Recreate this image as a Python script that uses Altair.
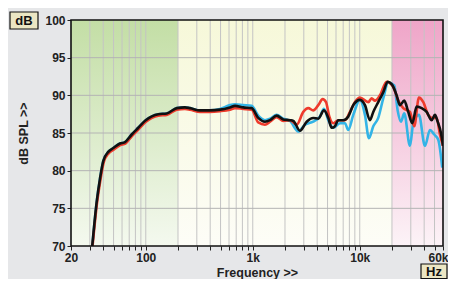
import altair as alt
import pandas as pd

# ---- data ----
black_f = [31.6, 34.8, 37.3, 40.1, 44.6, 49.7, 57.4, 64.0, 73.8, 85.1, 99.8, 131, 157, 195, 232, 259, 321, 398,
           494, 612, 682, 815, 977, 1125, 1301, 1449, 1673, 1929, 2228, 2393, 2761, 3190, 3676, 4094, 4628,
           5082, 5460, 5862, 6296, 7012, 7812, 8698, 10046, 11188, 12454, 13376, 14894, 16586, 18232, 19870,
           22132, 23760, 26060, 28400, 30960, 34040, 37920, 42200, 47000, 50460, 53500, 57420, 60000]
black_db = [70.0, 75.9, 78.9, 81.3, 82.5, 83.0, 83.6, 83.8, 84.8, 85.7, 86.7, 87.5, 87.6, 88.3, 88.4, 88.3, 88.0, 88.0,
            88.1, 88.4, 88.6, 88.4, 88.3, 87.0, 86.5, 86.7, 87.3, 86.8, 86.7, 86.6, 85.3, 86.5, 87.0, 86.9, 88.0,
            87.0, 85.7, 85.9, 86.7, 86.7, 87.2, 88.7, 89.4, 88.7, 86.7, 87.8, 89.1, 90.4, 91.8, 91.5,
            90.0, 88.7, 89.3, 87.8, 86.3, 88.5, 88.3, 87.8, 86.7, 87.4, 86.5, 85.0, 83.3]

red_f = [31.8, 35.0, 37.6, 40.4, 44.9, 50.0, 57.8, 64.5, 74.2, 85.6, 100.3, 131, 157, 195, 232, 259, 321, 398,
         494, 612, 682, 815, 977, 1125, 1301, 1449, 1673, 1929, 2228, 2573, 2966, 3302, 3676, 4094, 4500, 4836,
         5190, 5654, 6296, 7274, 8098, 9020, 10046, 12016, 12914, 13872, 15450, 17834, 20566, 22910, 25500,
         29460, 32300, 35740, 39260, 43680, 47640, 52360, 56200, 60000]
red_db = [70.0, 75.7, 78.7, 81.1, 82.3, 82.8, 83.4, 83.6, 84.6, 85.5, 86.5, 87.3, 87.4, 88.1, 88.2, 88.1, 87.8, 87.8,
          87.9, 88.1, 88.3, 88.2, 88.1, 86.4, 86.1, 86.5, 87.1, 86.6, 86.7, 86.1, 87.8, 88.3, 88.0, 88.7, 89.5, 89.1,
          87.2, 86.3, 86.7, 86.7, 87.8, 89.1, 89.7, 89.1, 89.6, 89.3, 90.0, 91.8, 91.1, 89.3, 88.3,
          87.8, 85.9, 89.7, 89.1, 87.4, 87.0, 87.0, 84.8, 83.3]

blue_f = [31.6, 34.8, 37.3, 40.1, 44.6, 49.7, 57.4, 64.0, 73.8, 85.1, 99.8, 131, 157, 195, 232, 259, 321, 398,
          494, 612, 682, 815, 977, 1125, 1301, 1449, 1673, 1929, 2228, 2662, 3076, 3676, 4248, 4628, 5082, 5654,
          6532, 7274, 7812, 8698, 10046, 11188, 12190, 13376, 14894, 16586, 18472, 21014, 22612, 24260, 26060,
          29460, 31620, 35740, 40680, 45300, 49700, 54200, 59020]
blue_db = [70.0, 75.9, 78.9, 81.3, 82.5, 83.0, 83.6, 83.8, 84.8, 85.7, 86.7, 87.5, 87.6, 88.3, 88.4, 88.3, 88.0, 88.0,
           88.2, 88.7, 88.8, 88.7, 88.6, 87.3, 86.7, 86.9, 87.4, 86.9, 86.6, 85.2, 86.1, 86.5, 87.2, 88.2, 86.7, 85.7,
           86.3, 86.3, 85.4, 87.4, 89.4, 87.4, 84.3, 85.9, 87.0, 89.6, 91.7, 91.3, 88.0, 86.5, 87.6,
           83.3, 86.3, 87.4, 83.3, 85.4, 84.8, 84.1, 80.4]

band_start = [20, 200, 20000]
band_end = [200, 20000, 60000]

x_ticks = [20, 30, 40, 50, 60, 70, 80, 90, 100, 200, 300, 400, 500, 600, 700, 800, 900,
           1000, 2000, 3000, 4000, 5000, 6000, 7000, 8000, 9000, 10000, 20000, 30000, 40000, 50000, 60000]
y_ticks = [70, 75, 80, 85, 90, 95, 100]
x_labels = {20: "20", 100: "100", 1000: "1k", 10000: "10k", 60000: "60k"}

FONT = "Liberation Sans"
W, H = 372, 226

xs = alt.Scale(type="log", domain=[20, 60000], nice=False)
ys = alt.Scale(domain=[70, 100], nice=False, zero=False)

label_expr = " : ".join([f"datum.value == {k} ? '{v}'" for k, v in x_labels.items()]) + " : ''"

x_axis = alt.Axis(values=x_ticks, labelExpr=label_expr, title="Frequency >>", grid=False, domain=False,
                  tickSize=4, tickColor="#222", labelFlush=False, labelOverlap=False, labelPadding=2,
                  labelOffset=alt.ExprRef(expr="datum.value == 60000 ? -5 : 0"),
                  titleY=26.5, titleBaseline="middle")
y_axis = alt.Axis(values=y_ticks, title="dB SPL >>", grid=False, domain=False, tickSize=4,
                  tickColor="#222", labelPadding=2, titleX=-48, titleY=H / 2, titleBaseline="middle")


def X(field):
    return alt.X(field, type="quantitative", scale=xs, axis=x_axis)


def Y(field):
    return alt.Y(field, type="quantitative", scale=ys, axis=y_axis)


def grad(top, bottom):
    return alt.LinearGradient(gradient="linear", x1=0, x2=0, y1=0, y2=1,
                              stops=[alt.GradientStop(color=top, offset=0),
                                     alt.GradientStop(color=bottom, offset=1)])


band_colors = [("#c3dea5", "#f4f9ef"), ("#f6f8d9", "#fdfdf7"), ("#efa5c8", "#fcf3f7")]
bands = []
for i in range(3):
    d = pd.DataFrame({"f0": [band_start[i]], "f1": [band_end[i]], "y0": [70], "y1": [100]})
    bands.append(alt.Chart(d).mark_rect(fill=grad(*band_colors[i]), strokeWidth=0).encode(
        x=X("f0"), x2="f1", y=Y("y0"), y2="y1"))

vgrid = alt.Chart(pd.DataFrame({"f": x_ticks[1:-1]})).mark_rule(color="#c4c4c4", strokeWidth=1).encode(
    x=X("f"))
hgrid = alt.Chart(pd.DataFrame({"d": y_ticks[1:-1]})).mark_rule(color="#b4b4b4", strokeWidth=1).encode(
    y=Y("d"))


def series(fs, ds, color):
    d = pd.DataFrame({"f": fs, "db": ds})
    return alt.Chart(d).mark_line(color=color, strokeWidth=2.6, clip=True, interpolate="monotone").encode(
        x=X("f"), y=Y("db"))


blue = series(blue_f, blue_db, "#33b4e6")
red = series(red_f, red_db, "#ee3b2c")
black = series(black_f, black_db, "#111111")

frame = alt.Chart(pd.DataFrame({"f0": [20], "f1": [60000], "y0": [70], "y1": [100]})).mark_rect(
    fillOpacity=0, stroke="#111", strokeWidth=1.6).encode(x=X("f0"), x2="f1", y=Y("y0"), y2="y1")

one = pd.DataFrame({"a": [0]})
db_box = alt.Chart(one).mark_rect(fill="#ebe6c3", stroke="#111", strokeWidth=1.2).encode(
    x=alt.value(-61), x2=alt.value(-33), y=alt.value(-8), y2=alt.value(9))
db_txt = alt.Chart(one).mark_text(text="dB", font=FONT, fontWeight="bold", fontSize=13, color="#111",
                                  baseline="middle", align="center").encode(x=alt.value(-47), y=alt.value(1))
hz_box = alt.Chart(one).mark_rect(fill="#ebe6c3", stroke="#111", strokeWidth=1.2).encode(
    x=alt.value(350), x2=alt.value(376), y=alt.value(244), y2=alt.value(258.5))
hz_txt = alt.Chart(one).mark_text(text="Hz", font=FONT, fontWeight="bold", fontSize=13, color="#111",
                                  baseline="middle", align="center").encode(x=alt.value(363), y=alt.value(252))

chart = alt.layer(*bands, vgrid, hgrid, blue, red, black, frame, db_box, db_txt, hz_box, hz_txt).properties(
    width=W, height=H,
    autosize=alt.AutoSizeParams(type="none"),
    padding={"left": 63, "top": 12, "right": 5, "bottom": 33},
    background="#e6e7e9",
).configure_view(stroke=None).configure_axis(
    labelFont=FONT, labelFontWeight="bold", labelFontSize=12, labelColor="#222",
    titleFont=FONT, titleFontWeight="bold", titleFontSize=12.5, titleColor="#222",
)

chart.save("out.html", embed_options={"renderer": "svg", "actions": False})
